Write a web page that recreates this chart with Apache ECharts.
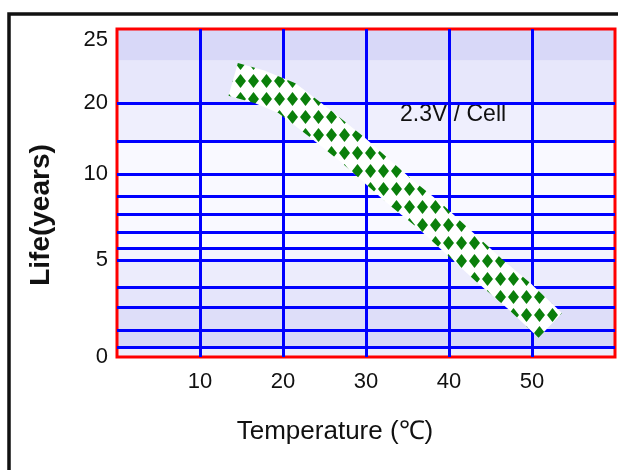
<!DOCTYPE html>
<html>
<head>
<meta charset="utf-8">
<script src="https://cdn.jsdelivr.net/npm/echarts@6/dist/echarts.min.js"></script>
<style>html,body{margin:0;padding:0;background:#fff}#main{width:618px;height:470px}</style>
</head>
<body>
<div id="main"></div>
<script>
// centre line of the 2.3V/cell band
var temps = [14, 17.2, 20.5, 24.5, 28.4, 34.1, 37.7, 41.7, 44.9, 48.6, 52.2];
var life = [21.9, 21.3, 20.4, 17.3, 13.7, 9.2, 7.9, 6.1, 4.6, 3.5, 2.2];

var tempTicks = [10, 20, 30, 40, 50];
var lifeTicks = [0, 5, 10, 20, 25];
var lifeGrid = [1, 2, 3, 4, 5, 6, 7, 8, 9, 10, 15, 20];
var lifeTop = 25.9;

// the printed life scale is uneven: years -> units of a hidden linear axis
var scaleYears = [0, 1, 2, 3, 4, 5, 6, 7, 8, 9, 10, 15, 20, 25, 26];
var scaleUnits = [0, 10, 27, 50, 70, 97, 109, 125, 143, 161, 183, 216, 254, 317, 329.6];

function toUnits(v) {
    for (var i = 0; i < scaleYears.length - 1; i++) {
        if (v <= scaleYears[i + 1]) {
            var f = (v - scaleYears[i]) / (scaleYears[i + 1] - scaleYears[i]);
            return scaleUnits[i] + f * (scaleUnits[i + 1] - scaleUnits[i]);
        }
    }
    return scaleUnits[scaleUnits.length - 1];
}

// shaded bands behind the grid [from, to, colour]
var shades = [
    [0, 1, '#eeeefd'], [1, 2, '#d8d8f8'], [2, 3, '#dedef9'], [3, 4, '#e5e5fb'],
    [4, 5, '#ececfc'], [5, 6, '#f4f4fe'], [6, 15, '#f9f9ff'], [15, 20, '#efeffd'],
    [20, 23.4, '#e7e7fb'], [23.4, lifeTop, '#d8d8f8']
];

// diamond pattern for the band
var tile = document.createElement('canvas');
tile.width = 13; tile.height = 18;
var ctx = tile.getContext('2d');
ctx.fillStyle = '#fff';
ctx.fillRect(0, 0, 13, 18);
ctx.fillStyle = '#0a7f0a';
ctx.beginPath();
ctx.moveTo(6.5, 2); ctx.lineTo(12, 9); ctx.lineTo(6.5, 16); ctx.lineTo(1, 9);
ctx.closePath();
ctx.fill();

var myChart = echarts.init(document.getElementById('main'));

var bandData = temps.map(function (t, i) { return [t, toUnits(life[i])]; });

option = {
    animation: false,
    grid: {
        left: 117, right: 3, top: 29, bottom: 113,
        show: true,
        borderColor: '#ff0000',
        borderWidth: 3
    },
    xAxis: {
        type: 'value',
        min: 0, max: 60,
        name: 'Temperature (℃)',
        nameLocation: 'middle',
        nameGap: 62,
        nameTextStyle: {
            fontFamily: 'Liberation Sans, Arial',
            fontSize: 26, color: '#111',
            padding: [0, 62, 0, 0]
        },
        axisLine: {show: false},
        axisTick: {show: false, customValues: tempTicks},
        axisLabel: {
            customValues: tempTicks,
            margin: 14,
            fontFamily: 'Liberation Sans, Arial',
            fontSize: 22, color: '#111'
        },
        splitLine: {show: true, lineStyle: {color: '#0000ff', width: 3}}
    },
    yAxis: {
        type: 'value',
        min: 0, max: toUnits(lifeTop),
        name: 'Life(years)',
        nameLocation: 'middle',
        nameRotate: 90,
        nameGap: 62,
        nameTextStyle: {
            fontFamily: 'Liberation Sans, Arial',
            fontSize: 28, fontWeight: 'bold', color: '#111',
            padding: [0, 44, 0, 0]
        },
        axisLine: {show: false},
        axisTick: {show: false, customValues: lifeGrid.map(toUnits)},
        axisLabel: {
            customValues: lifeTicks.map(toUnits),
            margin: 9,
            fontFamily: 'Liberation Sans, Arial',
            fontSize: 22, color: '#111',
            formatter: function (v) {
                for (var i = 0; i < lifeTicks.length; i++) {
                    if (Math.abs(toUnits(lifeTicks[i]) - v) < 0.01) return lifeTicks[i];
                }
                return '';
            }
        },
        splitLine: {show: true, lineStyle: {color: '#0000ff', width: 3}}
    },
    graphic: [
        {
            type: 'rect', silent: true,
            shape: {x: 9, y: 14, width: 800, height: 800},
            style: {fill: 'none', stroke: '#111', lineWidth: 3.5}
        },
        {
            type: 'text', silent: true, left: 400, top: 103,
            style: {text: '2.3V / Cell', fontFamily: 'Liberation Sans, Arial',
                fontSize: 23, fill: '#111'}
        }
    ],
    series: [
        {
            type: 'line',
            name: '2.3V / Cell',
            data: bandData,
            silent: true,
            showSymbol: false,
            lineStyle: {
                width: 34,
                color: {image: tile, repeat: 'repeat'},
                cap: 'butt',
                join: 'round'
            },
            markArea: {
                silent: true,
                z: -1,
                itemStyle: {borderWidth: 0},
                data: shades.map(function (s) {
                    return [
                        {yAxis: toUnits(s[0]), itemStyle: {color: s[2]}},
                        {yAxis: toUnits(s[1])}
                    ];
                })
            }
        }
    ]
};

myChart.setOption(option);
</script>
</body>
</html>
